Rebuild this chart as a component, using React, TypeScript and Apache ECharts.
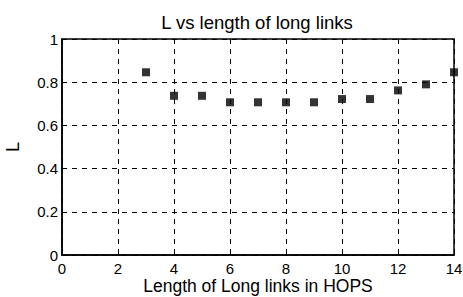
import React, { useEffect, useRef } from "react";
import * as echarts from "echarts";

const hops = [3, 4, 5, 6, 7, 8, 9, 10, 11, 12, 13, 14];
const lValues = [0.846, 0.737, 0.737, 0.707, 0.707, 0.707, 0.707, 0.722, 0.722, 0.762, 0.79, 0.846];
const titleText = "L vs length of long links";
const xName = "Length of Long links in HOPS";
const yName = "L";

export default function App() {
  const ref = useRef<HTMLDivElement>(null);
  useEffect(() => {
    if (!ref.current) return;
    const chart = echarts.init(ref.current, null, { renderer: "svg" });
    const font = "'Liberation Sans', Arial, sans-serif";
    chart.setOption({
      animation: false,
      backgroundColor: "#fff",
      title: {
        text: titleText,
        left: 252,
        textAlign: "center",
        top: 8,
        textStyle: { fontFamily: font, fontSize: 18.5, fontWeight: "normal", color: "#000" },
      },
      grid: {
        left: 62,
        right: 9,
        top: 39,
        bottom: 42,
        containLabel: false,
        outerBoundsMode: "none",
        show: true,
        borderColor: "#000",
        borderWidth: 1.5,
      },
      xAxis: {
        type: "value",
        min: 0,
        max: 14,
        interval: 2,
        name: xName,
        nameLocation: "middle",
        nameGap: 22,
        nameMoveOverlap: false,
        nameTextStyle: { fontFamily: font, fontSize: 17.5, color: "#000" },
        axisLine: { show: true, lineStyle: { color: "#000", width: 1.5 } },
        axisTick: { show: true, inside: true, length: 4, lineStyle: { color: "#000" } },
        axisLabel: { fontFamily: font, fontSize: 15, color: "#000", margin: 6 },
        splitLine: { show: true, lineStyle: { color: "#000", type: [5, 5], width: 1 } },
      },
      yAxis: {
        type: "value",
        min: 0,
        max: 1,
        interval: 0.2,
        name: yName,
        nameLocation: "middle",
        nameGap: 40,
        nameMoveOverlap: false,
        nameTextStyle: { fontFamily: font, fontSize: 18, color: "#000" },
        axisLine: { show: true, lineStyle: { color: "#000", width: 1.5 } },
        axisTick: { show: true, inside: true, length: 4, lineStyle: { color: "#000" } },
        axisLabel: { fontFamily: font, fontSize: 15, color: "#000", margin: 4 },
        splitLine: { show: true, lineStyle: { color: "#000", type: [5, 5], width: 1 } },
      },
      series: [
        {
          type: "scatter",
          data: hops.map((h, i) => [h, lValues[i]]),
          symbol: "rect",
          symbolSize: 8,
          itemStyle: { color: "#000" },
          clip: false,
        },
      ],
    });
    return () => chart.dispose();
  }, []);
  return (
    <div
      ref={ref}
      style={{ position: "fixed", left: 0, top: 0, width: 463, height: 297 }}
    />
  );
}
